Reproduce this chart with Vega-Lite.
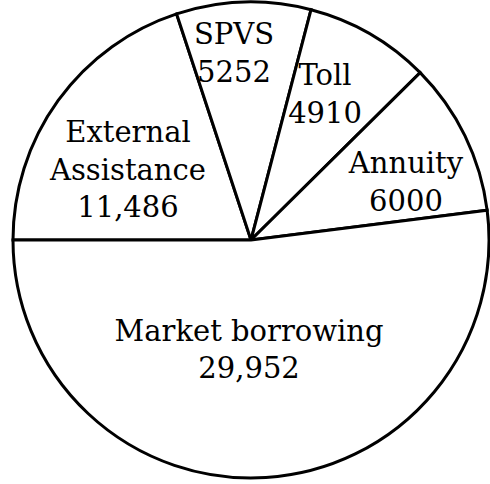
{
  "$schema": "https://vega.github.io/schema/vega-lite/v6.json",
  "autosize": {"type": "fit", "contains": "padding"},
  "width": 490,
  "height": 484,
  "padding": {"left": 13, "top": 1, "right": 1, "bottom": 5},
  "background": "white",
  "view": {"stroke": null},
  "data": {
    "values": [
      {"source": "External Assistance", "value": 11486, "rank": 1, "label": "External\nAssistance\n11,486"},
      {"source": "SPVS", "value": 5252, "rank": 2, "label": "SPVS\n5252"},
      {"source": "Toll", "value": 4910, "rank": 3, "label": "Toll\n4910"},
      {"source": "Annuity", "value": 6000, "rank": 4, "label": "Annuity\n6000"},
      {"source": "Market borrowing", "value": 29952, "rank": 5, "label": "Market borrowing\n29,952"}
    ]
  },
  "encoding": {
    "theta": {"field": "value", "type": "quantitative", "stack": true, "scale": {"range": [4.712389, 10.995574]}},
    "order": {"field": "rank", "type": "quantitative"}
  },
  "layer": [
    {
      "mark": {"type": "arc", "outerRadius": 238, "fill": "white", "stroke": "black", "strokeWidth": 3}
    },
    {
      "mark": {"type": "text", "radius": 163, "thetaOffset": 0.089, "lineBreak": "\n", "font": "DejaVu Serif", "fontSize": 29, "lineHeight": 37.5, "color": "black", "align": "center", "baseline": "middle"},
      "encoding": {"text": {"condition": {"test": "datum.source === 'External Assistance'", "field": "label"}, "value": ""}}
    },
    {
      "mark": {"type": "text", "radius": 205.7, "thetaOffset": -0.0513, "lineBreak": "\n", "font": "DejaVu Serif", "fontSize": 29, "lineHeight": 37.5, "color": "black", "align": "center", "baseline": "middle"},
      "encoding": {"text": {"condition": {"test": "datum.source === 'SPVS'", "field": "label"}, "value": ""}}
    },
    {
      "mark": {"type": "text", "radius": 179.9, "thetaOffset": -0.0986, "lineBreak": "\n", "font": "DejaVu Serif", "fontSize": 29, "lineHeight": 37.5, "color": "black", "align": "center", "baseline": "middle"},
      "encoding": {"text": {"condition": {"test": "datum.source === 'Toll'", "field": "label"}, "value": ""}}
    },
    {
      "mark": {"type": "text", "radius": 172.6, "thetaOffset": -0.003, "lineBreak": "\n", "font": "DejaVu Serif", "fontSize": 29, "lineHeight": 37.5, "color": "black", "align": "center", "baseline": "middle"},
      "encoding": {"text": {"condition": {"test": "datum.source === 'Annuity'", "field": "label"}, "value": ""}}
    },
    {
      "mark": {"type": "text", "radius": 92, "thetaOffset": 0.084, "lineBreak": "\n", "font": "DejaVu Serif", "fontSize": 29, "lineHeight": 37.5, "color": "black", "align": "center", "baseline": "middle"},
      "encoding": {"text": {"condition": {"test": "datum.source === 'Market borrowing'", "field": "label"}, "value": ""}}
    }
  ]
}
